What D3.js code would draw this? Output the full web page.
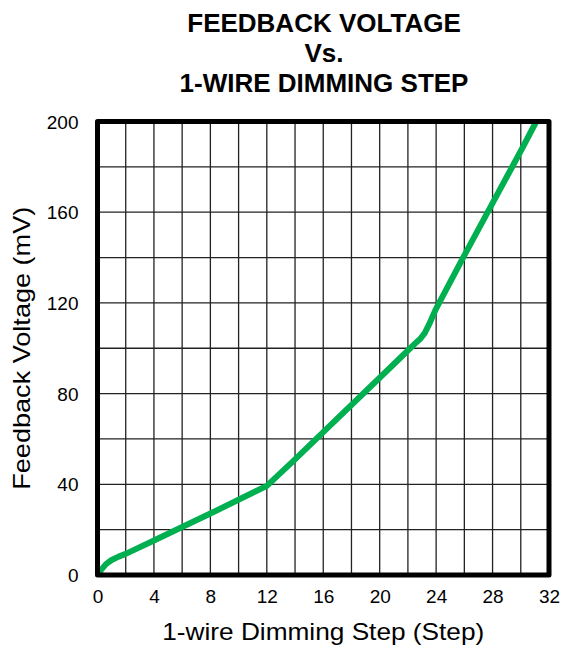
<!DOCTYPE html>
<html><head><meta charset="utf-8">
<script src="https://cdn.jsdelivr.net/npm/d3@7"></script>
<style>
html,body{margin:0;padding:0;background:#fff;}
text{font-family:"Liberation Sans",Arial,Helvetica,sans-serif;fill:#000;}
</style></head>
<body>
<svg id="chart" width="563" height="650"></svg>
<script>
const steps = [0, 0.3, 0.6, 1.0, 1.5, 2, 4, 8, 12, 14, 16, 20, 22, 22.5, 22.9, 23.2, 23.5, 24, 26, 28, 30, 31.1];
const feedbackMV = [0, 2.6, 4.8, 6.6, 8.1, 9.3, 15.2, 27.1, 39.3, 51, 63, 87, 99, 102, 104.3, 106.8, 110.5, 117.5, 141, 164, 187, 200];
const xTicks = [0, 4, 8, 12, 16, 20, 24, 28, 32];
const yTicks = [0, 40, 80, 120, 160, 200];
const titleLines = ["FEEDBACK VOLTAGE", "Vs.", "1-WIRE DIMMING STEP"];
const xLabel = "1-wire Dimming Step (Step)";
const yLabel = "Feedback Voltage (mV)";

const svg = d3.select("#chart");
const L = 97.5, R = 549, T = 121.5, B = 575;
const x = d3.scaleLinear().domain([0, 32]).range([L, R]);
const y = d3.scaleLinear().domain([0, 200]).range([B, T]);

// grid
const g = svg.append("g");
g.selectAll("line.vx").data(d3.range(2, 32, 2)).join("line")
  .attr("x1", d => x(d)).attr("x2", d => x(d)).attr("y1", T).attr("y2", B)
  .attr("stroke", "#222").attr("stroke-width", 1.3);
g.selectAll("line.hy").data(d3.range(20, 200, 20)).join("line")
  .attr("y1", d => y(d)).attr("y2", d => y(d)).attr("x1", L).attr("x2", R)
  .attr("stroke", "#222").attr("stroke-width", 1.3);

// curve
const line = d3.line().x((d, i) => x(steps[i])).y(d => y(d)).curve(d3.curveLinear);
svg.append("path").datum(feedbackMV).attr("d", line)
  .attr("fill", "none").attr("stroke", "#00B050").attr("stroke-width", 6)
  .attr("stroke-linejoin", "round").attr("stroke-linecap", "butt");

// frame
svg.append("rect").attr("x", L).attr("y", T).attr("width", R - L).attr("height", B - T)
  .attr("fill", "none").attr("stroke", "#000").attr("stroke-width", 5)
  .attr("stroke-linejoin", "round");

// axes labels
const xAxis = d3.axisBottom(x).tickValues(xTicks).tickSize(0).tickPadding(0);
const xg = svg.append("g").attr("transform", `translate(0,${B})`).call(xAxis);
xg.select(".domain").remove();
xg.selectAll("text").attr("y", 28).attr("dy", "0").style("font-size", "19px")
  .style("font-family", "'Liberation Sans',Arial,sans-serif").attr("fill", "#000");

const yAxis = d3.axisLeft(y).tickValues(yTicks).tickSize(0).tickPadding(0);
const yg = svg.append("g").attr("transform", `translate(${L - 19},0)`).call(yAxis);
yg.select(".domain").remove();
yg.selectAll("text").attr("x", 0).attr("dy", "0.35em").style("font-size", "19px")
  .style("font-family", "'Liberation Sans',Arial,sans-serif").attr("fill", "#000");

// axis titles
svg.append("text").attr("x", (L + R) / 2).attr("y", 640).attr("text-anchor", "middle")
  .style("font-size", "24px").attr("textLength", 322).attr("lengthAdjust", "spacingAndGlyphs").text(xLabel);
svg.append("text").attr("transform", `translate(30,${(T + B) / 2}) rotate(-90)`).attr("text-anchor", "middle")
  .style("font-size", "24px").attr("textLength", 283).attr("lengthAdjust", "spacingAndGlyphs").text(yLabel);

// title
titleLines.forEach((t, i) => {
  svg.append("text").attr("x", 324).attr("y", 31.5 + i * 30).attr("text-anchor", "middle")
    .style("font-size", "26px").style("font-weight", "bold").text(t);
});
</script>
</body></html>
